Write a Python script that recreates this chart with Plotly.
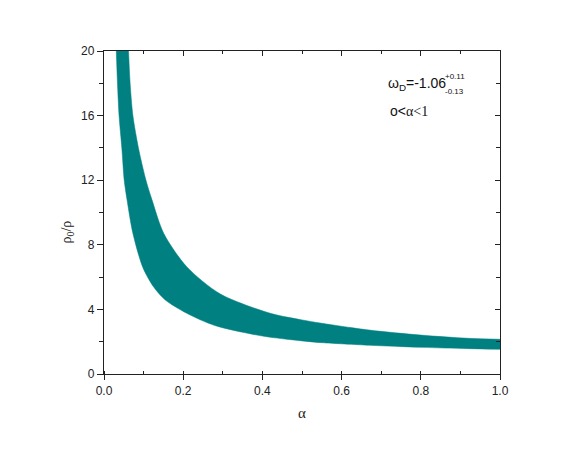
import plotly.graph_objects as go

# band edges: alpha vs rho_0/rho
alpha_lower = [0.031, 0.034, 0.038, 0.045, 0.051, 0.058, 0.073, 0.098, 0.125,
               0.154, 0.209, 0.28, 0.40, 0.50, 0.55, 0.67, 0.80, 0.92, 1.00]
rho_lower = [20, 18, 16, 14, 12, 10.8, 8.7, 6.6, 5.4,
             4.6, 3.76, 3.0, 2.35, 2.05, 1.94, 1.78, 1.65, 1.57, 1.53]

alpha_upper = [0.062, 0.066, 0.073, 0.087, 0.106, 0.121, 0.151, 0.209,
               0.294, 0.42, 0.50, 0.55, 0.67, 0.80, 0.92, 1.00]
rho_upper = [20, 18, 16, 14, 12, 10.8, 8.7, 6.64,
             4.95, 3.76, 3.35, 3.14, 2.72, 2.41, 2.21, 2.15]

x_range = [0, 1]
y_range = [0, 20]
teal = "#008080"
font = "Liberation Sans, Arial, sans-serif"
serif = "Liberation Serif, Times New Roman, serif"

fig = go.Figure()

# lower edge first, then upper edge filled down to it
fig.add_trace(go.Scatter(
    x=alpha_lower, y=rho_lower, mode="lines",
    line=dict(color=teal, width=0.5, shape="spline", smoothing=0.8),
    showlegend=False, hoverinfo="skip",
))
fig.add_trace(go.Scatter(
    x=alpha_upper, y=rho_upper, mode="lines",
    line=dict(color=teal, width=0.5, shape="spline", smoothing=0.8),
    fill="tonexty", fillcolor=teal,
    showlegend=False, hoverinfo="skip",
))
# empty trace so the mirrored top/right axes get drawn
fig.add_trace(go.Scatter(x=[], y=[], xaxis="x2", yaxis="y2",
                         showlegend=False, hoverinfo="skip"))

axis_common = dict(showline=True, linecolor="#222", linewidth=1.3,
                   showgrid=False, zeroline=False, tickcolor="#222",
                   tickwidth=1, tickfont=dict(size=12, color="#222", family=font))

fig.update_layout(
    width=573, height=441,
    margin=dict(l=96, r=81, t=43, b=75),
    paper_bgcolor="white", plot_bgcolor="white",
    font=dict(family=font, color="#222"),
    xaxis=dict(range=x_range, dtick=0.2, tickformat=".1f", ticks="outside",
               ticklen=5, minor=dict(dtick=0.1, ticks="inside", ticklen=3,
                                     tickcolor="#222"),
               title=dict(text="α", font=dict(size=15, family=serif), standoff=10),
               **axis_common),
    yaxis=dict(range=y_range, dtick=4, ticks="outside", ticklen=6,
               minor=dict(dtick=2, ticks="outside", ticklen=4, tickcolor="#222"),
               **axis_common),
    xaxis2=dict(range=x_range, overlaying="x", side="top", anchor="y",
                dtick=0.2, ticks="inside", ticklen=5, showticklabels=False,
                minor=dict(dtick=0.1, ticks="inside", ticklen=3, tickcolor="#222"),
                **axis_common),
    yaxis2=dict(range=y_range, overlaying="y", side="right", anchor="x",
                dtick=4, ticks="inside", ticklen=5, showticklabels=False,
                minor=dict(dtick=2, ticks="inside", ticklen=4, tickcolor="#222"),
                **axis_common),
)

fig.add_annotation(
    text="ρ<sub>0</sub>/ρ", textangle=-90, xref="paper", yref="paper",
    x=-0.092, y=0.44, xanchor="center", yanchor="middle", showarrow=False,
    font=dict(size=14, family=serif, color="#222"),
)
fig.add_annotation(
    text="ω<sub>D</sub>=-1.06", xref="x", yref="y", x=0.713, y=17.95,
    xanchor="left", yanchor="middle", showarrow=False,
    font=dict(size=14, family=font, color="#111"),
)
fig.add_annotation(
    text="+0.11", xref="x", yref="y", x=0.857, y=18.45,
    xanchor="left", yanchor="middle", showarrow=False,
    font=dict(size=8, family=font, color="#111"),
)
fig.add_annotation(
    text="-0.13", xref="x", yref="y", x=0.857, y=17.5,
    xanchor="left", yanchor="middle", showarrow=False,
    font=dict(size=8, family=font, color="#111"),
)
fig.add_annotation(
    text="o&lt;<span style='font-family:Liberation Serif'>α&lt;1</span>",
    xref="x", yref="y", x=0.718, y=16.3,
    xanchor="left", yanchor="middle", showarrow=False,
    font=dict(size=14, family=font, color="#111"),
)

fig.write_html("out.html")
